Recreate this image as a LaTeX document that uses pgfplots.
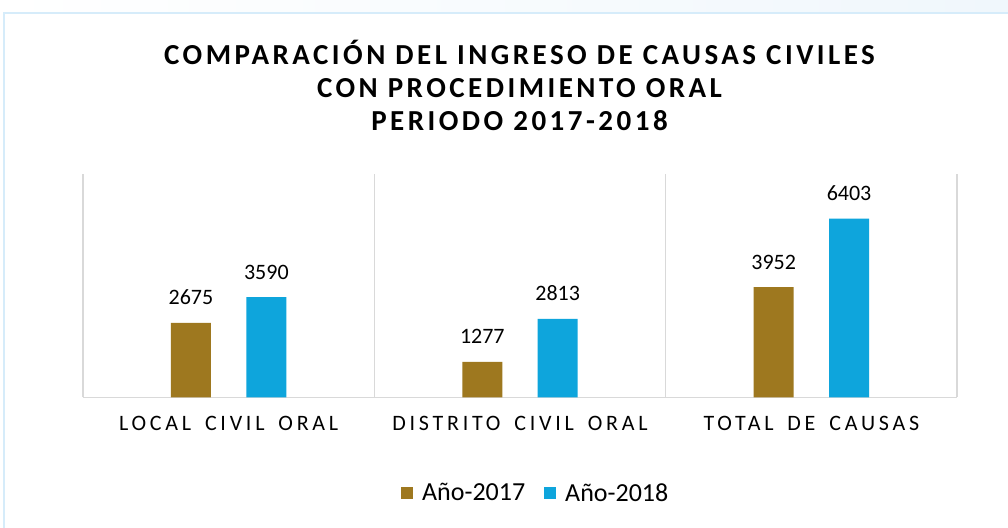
\documentclass[border=0pt]{standalone}
\usepackage{fontspec}
\usepackage{pgfplots}
\pgfplotsset{compat=1.18}
\setmainfont{Carlito}
\newfontfamily\titlefont[LetterSpace=12]{Carlito}
\newfontfamily\catfont[LetterSpace=17,WordSpace=1.6]{Carlito}
\definecolor{gold}{RGB}{158,120,31}
\definecolor{cyanbar}{RGB}{14,165,220}
\definecolor{framecol}{RGB}{214,236,250}
\definecolor{sepcol}{RGB}{217,217,217}
\begin{document}
\begin{tikzpicture}[x=1bp,y=1bp]
\useasboundingbox (0,0) rectangle (1008,528);
\fill[white] (0,0) rectangle (1008,528);
\fill[left color=white, right color={rgb,255:red,240;green,247;blue,252}] (0,515) rectangle (1008,528);
\draw[framecol, line width=2bp] (4,-2) -- (4,515) -- (1010,515);
\node[anchor=base, font=\titlefont\bfseries\fontsize{29bp}{34bp}\selectfont] at (519.5,463) {COMPARACIÓN DEL INGRESO DE CAUSAS CIVILES};
\node[anchor=base, font=\titlefont\bfseries\fontsize{29bp}{34bp}\selectfont] at (519.5,430) {CON PROCEDIMIENTO ORAL};
\node[anchor=base, font=\titlefont\bfseries\fontsize{29bp}{34bp}\selectfont] at (519.5,397) {PERIODO 2017-2018};
\begin{axis}[
  at={(83bp,130.5bp)}, anchor=south west,
  scale only axis, width=874bp, height=223.5bp,
  ybar=35.4bp, bar width=40bp,
  xmin=-0.5, xmax=2.5, ymin=0, ymax=8000,
  axis x line*=bottom, hide y axis,
  x axis line style={sepcol, line width=1.5bp, -},
  xtick={0,1,2},
  xticklabels={LOCAL CIVIL ORAL, DISTRITO CIVIL ORAL, TOTAL DE CAUSAS},
  major tick length=0pt,
  xticklabel style={anchor=base, yshift=-33.5bp, font=\catfont\fontsize{22bp}{25bp}\selectfont},
  extra x ticks={-0.5,0.5,1.5,2.5},
  extra x tick labels={},
  extra x tick style={grid=major, major grid style={sepcol, line width=1.5bp}, major tick length=0pt},
  nodes near coords,
  nodes near coords style={/pgf/number format/assume math mode=true, /pgf/number format/fixed, /pgf/number format/1000 sep={}},
  every node near coord/.append style={anchor=base, yshift=18bp, font=\fontsize{22bp}{26bp}\selectfont, text=black},
  legend style={at={(0.518,-0.427)}, anchor=center, draw=none, fill=none,
    legend columns=2, font=\fontsize{26bp}{30bp}\selectfont,
    /tikz/every odd column/.append style={column sep=7bp},
    /tikz/every even column/.append style={column sep=17bp}},
  legend image code/.code={\fill[#1] (0bp,-6bp) rectangle (12bp,6bp);},
]
\addplot[fill=gold, draw=none] coordinates {(0,2675) (1,1277) (2,3952)};
\addplot[fill=cyanbar, draw=none] coordinates {(0,3590) (1,2813) (2,6403)};
\legend{Año-2017, Año-2018}
\end{axis}
\end{tikzpicture}
\end{document}
